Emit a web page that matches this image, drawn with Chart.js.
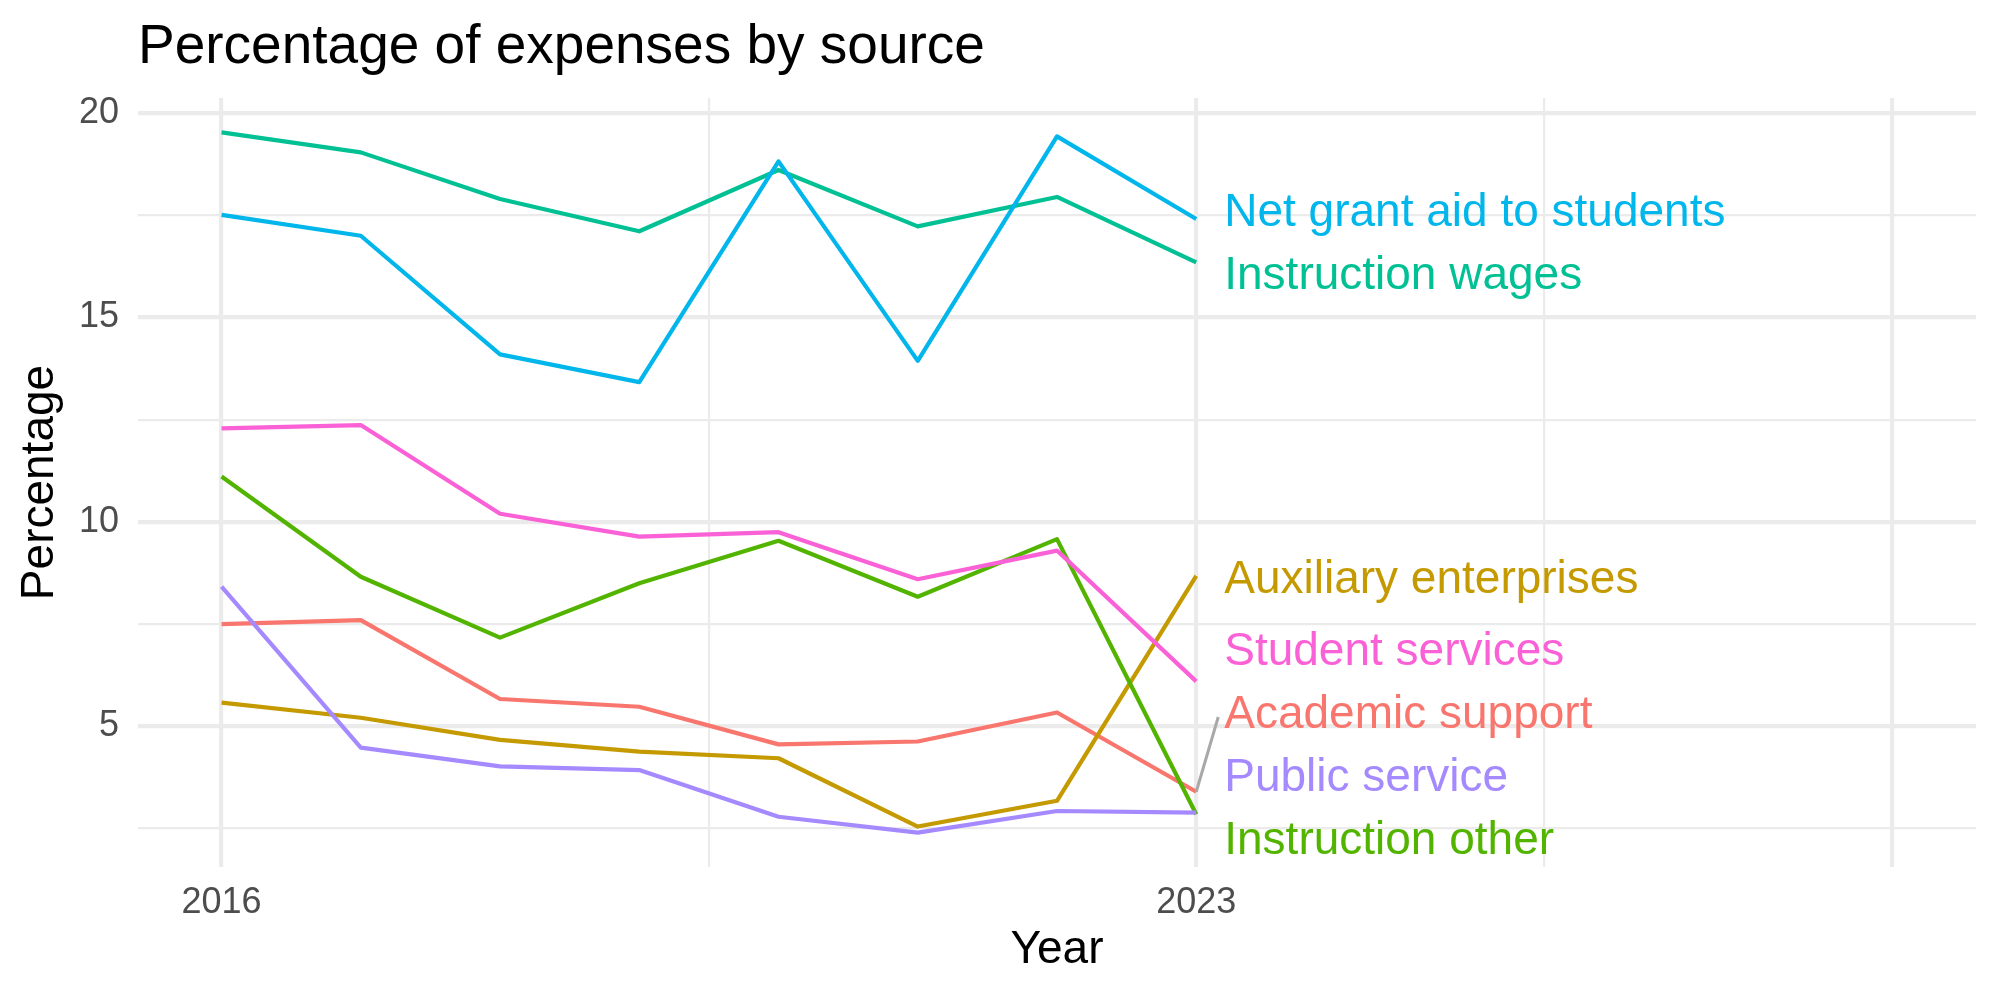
<!DOCTYPE html>
<html>
<head>
<meta charset="utf-8">
<script src="https://cdn.jsdelivr.net/npm/chart.js@4.4.1/dist/chart.umd.min.js"></script>
<style>
  html, body { margin: 0; padding: 0; background: #ffffff; }
</style>
</head>
<body>
<canvas id="chart" width="2000" height="1000"></canvas>
<script>
// data
var years = [2016, 2017, 2018, 2019, 2020, 2021, 2022, 2023];
var sourceNames = ['Academic support', 'Auxiliary enterprises', 'Instruction other',
  'Instruction wages', 'Net grant aid to students', 'Public service', 'Student services'];
var academicSupport      = [7.50, 7.60, 5.67, 5.48, 4.56, 4.63, 5.34, 3.40];
var auxiliaryEnterprises = [5.58, 5.21, 4.67, 4.38, 4.22, 2.55, 3.18, 8.68];
var instructionOther     = [11.11, 8.66, 7.17, 8.50, 9.54, 8.17, 9.58, 2.85];
var instructionWages     = [19.53, 19.04, 17.90, 17.11, 18.61, 17.23, 17.95, 16.35];
var netGrantAid          = [17.51, 17.00, 14.10, 13.42, 18.82, 13.94, 19.43, 17.41];
var publicService        = [8.42, 4.48, 4.02, 3.93, 2.79, 2.40, 2.93, 2.89];
var studentServices      = [12.29, 12.37, 10.20, 9.64, 9.75, 8.60, 9.30, 6.10];
var sourceColors = ['#F8766D', '#C49A00', '#53B400', '#00C094', '#00B6EB', '#A58AFF', '#FB61D7'];

var xTicks = [2016, 2019.5, 2023, 2025.5, 2028];
var xTickLabels = ['2016', '', '2023', '', ''];
var xMajor = [2016, 2023, 2028];
var yTicks = [2.5, 5, 7.5, 10, 12.5, 15, 17.5, 20];
var yTickLabels = ['', '5', '', '10', '', '15', '', '20'];
var yMajor = [5, 10, 15, 20];

var allSeries = [academicSupport, auxiliaryEnterprises, instructionOther,
  instructionWages, netGrantAid, publicService, studentServices];

var FONT = "'Liberation Sans', Arial, sans-serif";

var datasets = allSeries.map(function(vals, i) {
  return {
    label: sourceNames[i],
    data: vals.map(function(v, j) { return {x: years[j], y: v}; }),
    borderColor: sourceColors[i],
    backgroundColor: sourceColors[i],
    borderWidth: 4.2,
    borderJoinStyle: 'round',
    pointRadius: 0,
    tension: 0,
    fill: false,
    order: allSeries.length - 1 - i
  };
});

// title aligned with the panel, like ggplot
var panelTitle = {
  id: 'panelTitle',
  afterDraw: function(chart) {
    var ctx = chart.ctx;
    ctx.save();
    ctx.font = '55px ' + FONT;
    ctx.fillStyle = '#000000';
    ctx.textBaseline = 'alphabetic';
    ctx.textAlign = 'left';
    ctx.fillText('Percentage of expenses by source', chart.chartArea.left, 63);
    ctx.restore();
  }
};

// end labels pushed apart, a bit like ggrepel
var endLabels = {
  id: 'endLabels',
  afterDatasetsDraw: function(chart) {
    var ctx = chart.ctx;
    var xs = chart.scales.x, ys = chart.scales.y, area = chart.chartArea;
    var gap = 63, edge = 30;
    var items = chart.data.datasets.map(function(ds) {
      var last = ds.data[ds.data.length - 1];
      var py = ys.getPixelForValue(last.y);
      return {text: ds.label, color: ds.borderColor, px: xs.getPixelForValue(last.x), py: py, y: py};
    });
    items.sort(function(a, b) { return a.py - b.py; });
    for (var it = 0; it < 500; it++) {
      for (var i = 0; i < items.length - 1; i++) {
        var a = items[i], b = items[i + 1];
        var d = b.y - a.y;
        if (d < gap) {
          var push = (gap - d) / 2;
          a.y -= push;
          b.y += push;
        }
      }
      items.forEach(function(o) {
        o.y = Math.min(Math.max(o.y, area.top + edge), area.bottom - edge);
      });
    }
    ctx.save();
    items.forEach(function(o) {
      if (Math.abs(o.y - o.py) > 50) {
        ctx.strokeStyle = '#A8A8A8';
        ctx.lineWidth = 3;
        ctx.beginPath();
        ctx.moveTo(o.px, o.py);
        ctx.lineTo(o.px + 22, o.y + 6);
        ctx.stroke();
      }
    });
    ctx.font = '46px ' + FONT;
    ctx.textAlign = 'left';
    ctx.textBaseline = 'middle';
    items.forEach(function(o) {
      ctx.fillStyle = o.color;
      ctx.fillText(o.text, o.px + 28, o.y + 4);
    });
    ctx.restore();
  }
};

var ctx = document.getElementById('chart').getContext('2d');
var chart = new Chart(ctx, {
  type: 'line',
  data: { datasets: datasets },
  plugins: [panelTitle, endLabels],
  options: {
    responsive: false,
    animation: false,
    devicePixelRatio: 1,
    layout: { padding: { top: 98, right: 24, left: 0, bottom: 0 } },
    plugins: {
      legend: { display: false },
      tooltip: { enabled: false },
      title: { display: false }
    },
    scales: {
      x: {
        type: 'linear',
        min: 2015.4,
        max: 2028.6,
        afterBuildTicks: function(scale) {
          scale.ticks = xTicks.map(function(v) { return {value: v}; });
        },
        afterFit: function(scale) { scale.height = 133; },
        ticks: {
          autoSkip: false,
          maxRotation: 0,
          padding: 14,
          color: '#4D4D4D',
          font: { family: FONT, size: 36 },
          callback: function(value, index) { return xTickLabels[index]; }
        },
        grid: {
          drawTicks: false,
          color: '#EBEBEB',
          lineWidth: function(c) {
            return c.tick && xMajor.indexOf(c.tick.value) >= 0 ? 4.2 : 2.2;
          }
        },
        border: { display: false },
        title: {
          display: true,
          text: 'Year',
          color: '#000000',
          font: { family: FONT, size: 46 },
          padding: { top: 4, bottom: 22 }
        }
      },
      y: {
        type: 'linear',
        min: 1.56,
        max: 20.37,
        afterBuildTicks: function(scale) {
          scale.ticks = yTicks.map(function(v) { return {value: v}; });
        },
        afterFit: function(scale) { scale.width = 138; },
        ticks: {
          autoSkip: false,
          padding: 19,
          color: '#4D4D4D',
          font: { family: FONT, size: 36 },
          callback: function(value, index) { return yTickLabels[index]; }
        },
        grid: {
          drawTicks: false,
          color: '#EBEBEB',
          lineWidth: function(c) {
            return c.tick && yMajor.indexOf(c.tick.value) >= 0 ? 4.2 : 2.2;
          }
        },
        border: { display: false },
        title: {
          display: true,
          text: 'Percentage',
          color: '#000000',
          font: { family: FONT, size: 46 },
          padding: { top: 13, bottom: 4 }
        }
      }
    }
  }
});
</script>
</body>
</html>
